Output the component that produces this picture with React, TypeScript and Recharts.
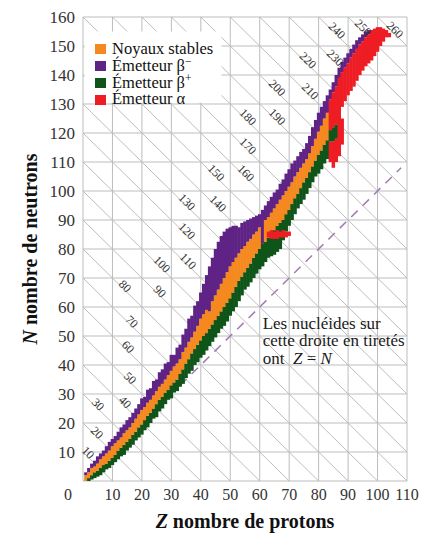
import React from "react";
import {
  ComposedChart,
  Bar,
  Cell,
  XAxis,
  YAxis,
  CartesianGrid,
  ReferenceLine,
  ReferenceArea,
  ReferenceDot,
  Legend,
  Label,
} from "recharts";

const SERIF = "'Liberation Serif', 'Times New Roman', serif";

const STABLE = "#f5891f";
const BETA_MINUS = "#5f2386";
const BETA_PLUS = "#0f5519";
const ALPHA = "#ee1d24";
const GRID = "#bdbdbd";

// light nuclei, one column per Z (values are N edges)
const zLight = [
  1, 2, 3, 4, 5, 6, 7, 8, 9, 10, 11, 12, 13, 14, 15, 16, 17, 18, 19, 20,
  21, 22, 23, 24, 25, 26, 27, 28, 29, 30, 31, 32, 33, 34, 35, 36, 37, 38, 39, 40,
  41, 42, 43, 44, 45, 46, 47, 48, 49, 50, 51, 52, 53, 54, 55, 56, 57, 58, 59, 60,
  61, 62, 63, 64, 65, 66, 67, 68, 69, 70, 71, 72, 73, 74, 75, 76, 77, 78, 79, 80,
  81, 82, 83,
];
const nBottom = [
  0, 0, 0.5, 1, 1.5, 2, 3, 4, 4.5, 5.5, 6.5, 7.5, 8.5, 9, 10.5, 11.5, 12.5, 14, 15, 16,
  17.5, 18.5, 20, 21.5, 22, 24, 25, 26.5, 28, 28.5, 30.5, 31, 32.5, 33.5, 35.5, 37, 38, 40, 41, 42.5,
  43.5, 45, 46.5, 48, 49.5, 51, 52.5, 53.5, 55, 57, 58.5, 60, 62, 64, 66, 67, 68.5, 70, 71.5, 73,
  74, 75.5, 77, 77.5, 78, 79, 80, 83, 86, 88, 90, 92, 94, 95.5, 97, 99, 101, 103, 105, 106,
  107.5, 109.5, 111,
];
const nStableLow = [
  0, 1, 2, 3, 3.5, 4.5, 5.5, 6, 7, 8, 9, 10.5, 11.5, 12.5, 13.5, 14.5, 16, 17, 18.5, 19.5,
  21, 22.5, 23.5, 25, 26.5, 28, 29, 30.5, 31.5, 33, 34, 35, 37, 38.5, 40.5, 42, 44, 45.5, 47, 48.5,
  50, 51, 52.5, 54, 55.5, 57, 58.5, 60, 61.5, 63, 65, 67, 69, 70.5, 72, 73.5, 75, 77, 78.5, 80,
  82, 82.5, 84, 85, 86.5, 88, 89, 90, 92, 93.5, 95.5, 97.5, 99, 101, 103, 104.5, 106.5, 108.5, 110.5, 112.5,
  114, 116, 117.5,
];
const nStableHigh = [
  2, 3, 4.5, 5, 6, 7.5, 8.5, 9.5, 10.5, 12, 13, 14, 15, 16.5, 17.5, 18.5, 20, 21.5, 23, 24.5,
  25.5, 27, 28, 29.5, 31, 32.5, 33.5, 35, 36.5, 38, 39.5, 40.5, 42, 44.5, 46, 48, 49.5, 51.5, 53.5, 56,
  57.5, 59, 58.5, 62, 64, 66, 68, 70, 72, 74, 75.5, 77, 78.5, 80, 81, 82.5, 83.5, 85, 86, 87.5,
  82, 90, 91, 92.5, 94, 95.5, 97, 98.5, 100, 101.5, 103, 105, 106.5, 108, 109.5, 111, 113, 115.5, 118, 120.5,
  122.5, 125, 127,
];
const nTop = [
  3, 4.5, 6, 7, 8.5, 9.5, 10.5, 12, 13.5, 14.5, 15.5, 17, 18.5, 19.5, 21, 22, 23.5, 25, 26.5, 28.5,
  29, 31.5, 32, 34.5, 35, 37.5, 38.5, 40.5, 41, 43.5, 43.5, 46, 47, 50.5, 52.5, 56, 57, 60.5, 62, 65,
  68, 71, 74, 77, 80, 82.5, 84.5, 86, 87, 87.5, 88, 88, 87.5, 89, 89.5, 90, 90.5, 91, 91.5, 92,
  93.5, 95, 96.5, 98, 99.5, 100.5, 102.5, 104, 106, 107.5, 109.5, 110.5, 112, 113.5, 114.5, 116.5, 119, 122, 124.5, 127,
  129, 131, 133,
];

// heavy nuclei and odd pieces: [Z, N from, N to]
const alphaHeavy = [
  [84, 110, 117], [84, 121, 131.5], [85, 108, 117], [85, 122, 134], [86, 110, 118], [86, 123, 136],
  [87, 112, 139], [88, 116, 125], [88, 129, 141], [89, 131, 142.5], [90, 133, 144], [91, 134.5, 146],
  [92, 136, 147.5], [93, 138, 149], [94, 140, 150.5], [95, 141.5, 151.5], [96, 143, 153], [97, 144, 154],
  [98, 145, 155.5], [99, 146.5, 156], [100, 148, 156.5], [101, 150, 156.5], [102, 151.5, 156],
  [103, 153, 155.5], [104, 153, 154.5],
];
const alphaN84 = [
  [63, 84, 86], [64, 83.5, 86.5], [65, 83.5, 86], [66, 83.5, 86.5], [67, 84, 86], [68, 84, 86.5],
  [69, 84, 86], [70, 84.5, 86],
];
const betaMinusHeavy = [
  [84, 131.5, 135], [85, 134, 137.5], [86, 136, 140], [87, 139, 142.5], [88, 141, 144.5],
  [89, 142.5, 146], [90, 144, 147.5], [91, 146, 149], [92, 147.5, 150.5], [93, 149, 152],
  [94, 150.5, 153], [95, 151.5, 154], [96, 153, 155], [97, 154, 155.5],
];
const betaPlusHeavy = [[84, 117, 121], [85, 117, 122], [86, 118, 123]];

const zTicks = [0, 10, 20, 30, 40, 50, 60, 70, 80, 90, 100, 110];
const nTicks = [0, 10, 20, 30, 40, 50, 60, 70, 80, 90, 100, 110, 120, 130, 140, 150, 160];

// lines of constant A = Z + N, and where their labels sit (Z)
const massNumbers = [
  10, 20, 30, 40, 50, 60, 70, 80, 90, 100, 110, 120, 130, 140, 150, 160, 170, 180, 190, 200,
  210, 220, 230, 240, 250, 260,
];
const massLabelZ = [
  1.7, 4.8, 5.1, 14.3, 16, 15.3, 16.6, 14.3, 26.1, 26.8, 35.7, 35.3, 35.3, 45.8, 45.2, 55.3,
  56, 56, 65.9, 65.9, 77.1, 76.4, 85.6, 86.2, 95.1, 105.9,
];

const legendColors = [STABLE, BETA_MINUS, BETA_PLUS, ALPHA];
const legendLabels = [
  <>Noyaux stables</>,
  <>Émetteur β<sup style={{ fontSize: "0.7em", lineHeight: 0 }}>−</sup></>,
  <>Émetteur β<sup style={{ fontSize: "0.7em", lineHeight: 0 }}>+</sup></>,
  <>Émetteur α</>,
];

type Row = { z: number; range: [number, number]; fill: string };
const rows: Row[] = [];
const push = (z: number, a: number, b: number, fill: string) => {
  if (b > a) rows.push({ z, range: [a, b], fill });
};
zLight.forEach((z, i) => {
  push(z, nBottom[i], nStableLow[i], BETA_PLUS);
  push(z, nStableLow[i], nStableHigh[i], STABLE);
  push(z, nStableHigh[i], nTop[i], BETA_MINUS);
});
betaPlusHeavy.forEach(([z, a, b]) => push(z, a, b, BETA_PLUS));
betaMinusHeavy.forEach(([z, a, b]) => push(z, a, b, BETA_MINUS));
alphaHeavy.forEach(([z, a, b]) => push(z, a, b, ALPHA));
alphaN84.forEach(([z, a, b]) => push(z, a, b, ALPHA));

const diagSegment = (a: number) => [
  { x: Math.max(0, a - 160), y: Math.min(160, a) },
  { x: Math.min(110, a), y: Math.max(0, a - 110) },
];

const ZTick = (props: any) => {
  const { x, y, payload } = props;
  const dx = payload.value === 0 ? -15 : 0;
  return (
    <text x={x + dx} y={y} dy="0.71em" textAnchor="middle" fontSize={16} fill="#333" fontFamily={SERIF}>
      {payload.value}
    </text>
  );
};

const NTick = (props: any) => {
  const { x, y, payload } = props;
  if (payload.value === 0) return <g />;
  return (
    <text x={x} y={y} dy="0.355em" textAnchor="end" fontSize={17} fill="#333" fontFamily={SERIF}>
      {payload.value}
    </text>
  );
};

// one cell column; widened a touch so neighbouring columns meet
const CellColumn = (p: any) => (
  <rect x={p.x - 0.3} y={p.y} width={p.width + 0.6} height={p.height} fill={p.fill} />
);

const renderLegend = () => (
  <div style={{ fontFamily: SERIF, fontSize: 16.5, lineHeight: "16.8px", color: "#111" }}>
    {legendLabels.map((lab, i) => (
      <div key={i} style={{ display: "flex", alignItems: "center", height: 16.8, lineHeight: "16.8px", whiteSpace: "nowrap" }}>
        <span style={{ display: "inline-block", width: 11, height: 10, background: legendColors[i], marginRight: 6 }} />
        <span>{lab}</span>
      </div>
    ))}
  </div>
);

export default function App() {
  return (
    <div style={{ position: "absolute", left: 0, top: 0, width: 433, height: 533, background: "#fff", fontFamily: SERIF }}>
      <ComposedChart
        width={433}
        height={533}
        data={rows}
        margin={{ top: 17, right: 26, bottom: 0, left: 0 }}
        style={{ fontFamily: SERIF }}
      >
        <CartesianGrid stroke={GRID} strokeWidth={1} />
        <XAxis
          dataKey="z"
          type="number"
          domain={[0, 110]}
          ticks={zTicks}
          interval={0}
          allowDataOverflow
          axisLine={false}
          tickLine={false}
          height={52}
          tick={<ZTick />}
        >
          <Label
            content={(p: any) => {
              const { x, y, width, height } = p.viewBox;
              return (
                <text x={x + width / 2} y={y + height - 5} textAnchor="middle" fontSize={20} fontWeight="bold" fill="#111" fontFamily={SERIF}>
                  <tspan fontStyle="italic">Z</tspan> nombre de protons
                </text>
              );
            }}
          />
        </XAxis>
        <YAxis
          type="number"
          domain={[0, 160]}
          ticks={nTicks}
          interval={0}
          allowDataOverflow
          axisLine={false}
          tickLine={false}
          width={83}
          tick={<NTick />}
        >
          <Label
            content={(p: any) => {
              const { x, y, height } = p.viewBox;
              const cx = x + 37;
              const cy = y + height / 2;
              return (
                <text transform={`translate(${cx},${cy}) rotate(-90)`} textAnchor="middle" fontSize={20} fontWeight="bold" fill="#111" fontFamily={SERIF}>
                  <tspan fontStyle="italic">N</tspan> nombre de neutrons
                </text>
              );
            }}
          />
        </YAxis>

        {massNumbers.map((a) => (
          <ReferenceLine key={`d${a}`} segment={diagSegment(a)} stroke={GRID} strokeWidth={1} zIndex={-90} />
        ))}
        <ReferenceLine
          segment={[{ x: 33, y: 33 }, { x: 108, y: 108 }]}
          stroke="#a279b3"
          strokeWidth={1.5}
          strokeDasharray="9 7"
          zIndex={-85}
        />
        <ReferenceArea x1={0.5} x2={47} y1={130.4} y2={155} fill="#fff" fillOpacity={1} stroke="none" zIndex={-80} />

        <Bar dataKey="range" barSize={2.9} isAnimationActive={false} shape={<CellColumn />}>
          {rows.map((r, i) => (
            <Cell key={i} fill={r.fill} />
          ))}
        </Bar>

        {massNumbers.map((a, i) => (
          <ReferenceDot
            key={`l${a}`}
            x={massLabelZ[i]}
            y={a - massLabelZ[i] + 1.5}
            r={0}
            shape={(p: any) => (
              <text
                x={p.cx}
                y={p.cy}
                transform={`rotate(45 ${p.cx} ${p.cy})`}
                textAnchor="middle"
                dominantBaseline="central"
                fontSize={12}
                fill="#333"
                fontFamily={SERIF}
              >
                {a}
              </text>
            )}
          />
        ))}

        <ReferenceDot
          x={61}
          y={52.5}
          r={0}
          shape={(p: any) => (
            <text x={p.cx} y={p.cy} fontSize={17} fill="#1a1a1a" fontFamily={SERIF}>
              <tspan x={p.cx}>Les nucléides sur</tspan>
              <tspan x={p.cx} dy={17.5}>cette droite en tiretés</tspan>
              <tspan x={p.cx} dy={17.5}>
                ont{"\u00a0 "}
                <tspan fontStyle="italic">Z</tspan> = <tspan fontStyle="italic">N</tspan>
              </tspan>
            </text>
          )}
        />

        <Legend
          layout="vertical"
          align="center"
          verticalAlign="middle"
          content={renderLegend}
          wrapperStyle={{ left: 95, top: 41, width: "auto", height: "auto" }}
        />
      </ComposedChart>
    </div>
  );
}
